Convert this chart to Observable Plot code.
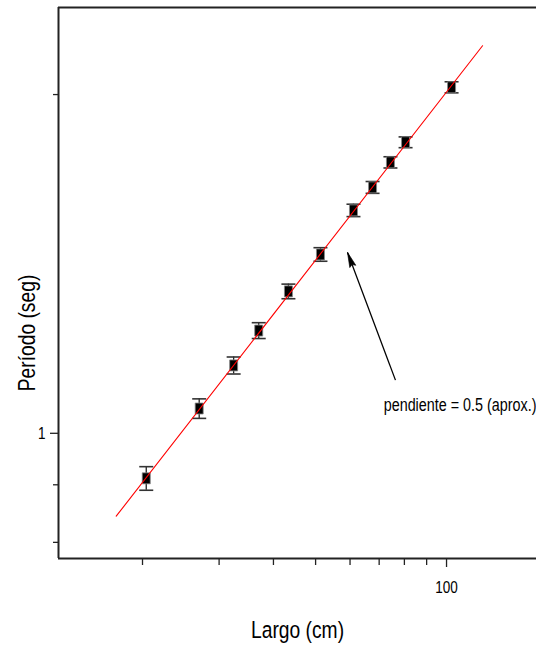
<!DOCTYPE html>
<html><head><meta charset="utf-8">
<script src="https://cdn.jsdelivr.net/npm/d3@7"></script>
<script src="https://cdn.jsdelivr.net/npm/@observablehq/plot@0.6"></script>
<style>
body{margin:0;background:#fff;}
</style></head><body><div id="chart"></div>
<script>
// Measured data (log-log)
const largo   = [20.4, 27.0, 32.4, 37.0, 43.3, 51.3, 61.1, 67.6, 74.3, 80.5, 102.7];
const periodo = [0.912, 1.052, 1.149, 1.234, 1.337, 1.442, 1.578, 1.654, 1.741, 1.814, 2.030];
const errPeriodo = [0.022, 0.021, 0.02, 0.02, 0.02, 0.02, 0.02, 0.02, 0.02, 0.02, 0.023];
// Fitted line (slope 0.5)
const fitLargo = [17.4, 121];
const fitPeriodo = [0.844, 2.21];
// Ticks
const xTicks = [20, 30, 40, 50, 60, 70, 80, 90];
const xLabelTicks = [100];
const yTicks = [0.8, 0.9, 2];
const yLabelTicks = [1];
// Texts
const xLabel = "Largo (cm)";
const yLabel = "Período (seg)";
const annotation = ["pendiente = 0.5 (aprox.)"];
const annotX = [71.7], annotY = [1.059];
const arrowFrom = [{L: 76.3, T: 1.115}], arrowTo = [{L: 59.2, T: 1.448}];

const xDomain = [12.82, 161.0];
const yDomain = [0.774, 2.39];

const data = largo.map((L, i) => ({L, T: periodo[i], e: errPeriodo[i]}));

const rectSym = {draw(ctx) { ctx.rect(-4, -5.5, 8, 11); }};
const capSym = {draw(ctx) { ctx.moveTo(-7, 0); ctx.lineTo(7, 0); }};
const headSym = {draw(ctx) { ctx.moveTo(0, 0); ctx.lineTo(-3.2, 15); ctx.lineTo(0, 13); ctx.lineTo(3.2, 15); ctx.closePath(); }};

const font = "'Liberation Sans', Arial, sans-serif";

const chart = Plot.plot({
  width: 536,
  height: 646,
  marginLeft: 58,
  marginTop: 7,
  marginBottom: 88,
  marginRight: 0,
  style: {fontFamily: font, background: "#fff", color: "#000"},
  x: {type: "log", domain: xDomain, axis: null},
  y: {type: "log", domain: yDomain, axis: null},
  marks: [
    Plot.ruleY([yDomain[0], yDomain[1]], {stroke: "#222", strokeWidth: 2}),
    Plot.ruleX([xDomain[0]], {stroke: "#222", strokeWidth: 2}),
    Plot.axisX(xTicks, {tickSize: 7, tickFormat: () => "", label: null, stroke: "#222", strokeWidth: 1.3}),
    Plot.axisX(xLabelTicks, {tickSize: 9, tickPadding: 14, fontSize: 16.5, label: null, stroke: "#222", strokeWidth: 1.3, fill: "#000"}),
    Plot.axisY(yTicks, {tickSize: 5, tickFormat: () => "", label: null, stroke: "#222", strokeWidth: 1.3}),
    Plot.axisY(yLabelTicks, {tickSize: 8, tickPadding: 5, fontSize: 16.5, label: null, stroke: "#222", strokeWidth: 1.3, fill: "#000"}),
    Plot.ruleX(data, {x: "L", y1: d => d.T - d.e, y2: d => d.T + d.e, stroke: "#222", strokeWidth: 1.3}),
    Plot.dot(data, {x: "L", y: d => d.T - d.e, symbol: capSym, fill: "none", stroke: "#333", strokeWidth: 1.6}),
    Plot.dot(data, {x: "L", y: d => d.T + d.e, symbol: capSym, fill: "none", stroke: "#333", strokeWidth: 1.6}),
    Plot.dot(data, {x: "L", y: "T", symbol: rectSym, fill: "#000", stroke: "#888", strokeWidth: 0.8}),
    Plot.line(fitLargo.map((L, i) => ({L, T: fitPeriodo[i]})), {x: "L", y: "T", stroke: "#ff0000", strokeWidth: 1.1}),
    Plot.link([0], {x1: () => arrowFrom[0].L, y1: () => arrowFrom[0].T, x2: () => arrowTo[0].L, y2: () => arrowTo[0].T, stroke: "#000", strokeWidth: 1.3}),
    Plot.dot(arrowTo, {x: "L", y: "T", symbol: headSym, fill: "#000", stroke: "#000", strokeWidth: 0.6, rotate: -20.6}),
    Plot.text(annotation, {x: annotX, y: annotY, text: d => d, textAnchor: "start", fontSize: 17.5, fill: "#000"}),
    Plot.text([xLabel], {frameAnchor: "bottom", lineAnchor: "middle", textAnchor: "middle", dy: 72, fontSize: 23.5, fill: "#000"}),
    Plot.text([yLabel], {frameAnchor: "left", lineAnchor: "middle", textAnchor: "middle", rotate: -90, dx: -31, dy: 50, fontSize: 23.5, fill: "#000"})
  ]
});
// condense text horizontally (narrow typeface look)
chart.querySelectorAll("text").forEach(t => {
  const tr = t.getAttribute("transform");
  if (tr) t.setAttribute("transform", tr + " scale(0.82,1)");
});
document.getElementById("chart").appendChild(chart);
</script></body></html>
